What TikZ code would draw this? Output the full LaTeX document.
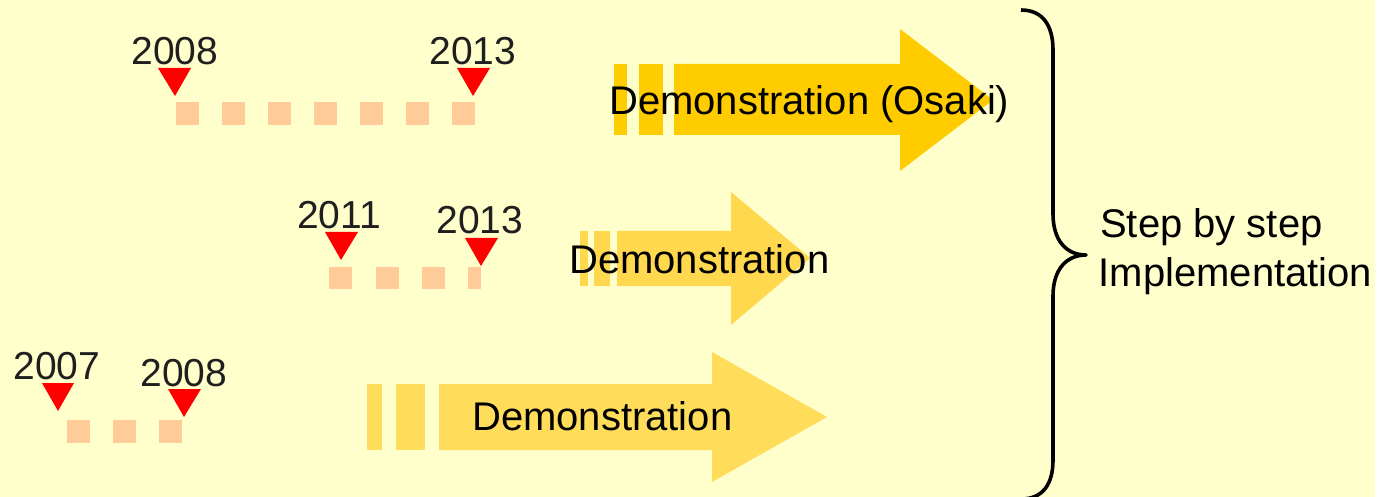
\documentclass[tikz,border=0pt]{standalone}
\usepackage{fontspec}
\setmainfont{Liberation Sans}
\definecolor{bgyellow}{HTML}{FFFFCC}
\definecolor{gold}{HTML}{FFCC00}
\definecolor{goldlight}{HTML}{FFD84D}
\definecolor{goldlighter}{HTML}{FFDC5A}
\definecolor{peach}{HTML}{FFCC99}
\definecolor{mark}{HTML}{FF0000}
\tikzset{
  txt/.style={inner sep=0pt, font=\fontsize{40}{49}\selectfont, text=black},
  yeartxt/.style={inner sep=0pt, anchor=base, font=\fontsize{39}{46}\selectfont, text=black!88},
  sq/.style={fill=peach, draw=none},
  tri/.style={fill=mark, draw=none},
  bracestroke/.style={draw=black, line width=3.6pt, line cap=butt, line join=round}
}
\begin{document}
\begin{tikzpicture}[x=1pt,y=-1pt]
\useasboundingbox (0,0) rectangle (1390,497);
\fill[white] (0,0) rectangle (1390,497);
\fill[bgyellow] (0,0) rectangle (1375,497);

% ---- top arrow (Osaki)
\fill[gold] (614,64) rectangle (627,135);
\fill[gold] (639,64) rectangle (663,135);
\fill[gold] (674,64) -- (900,64) -- (900,29) -- (993,100) -- (900,171) -- (900,135) -- (674,135) -- cycle;
\node[txt, anchor=base west] (demo1) at (609,115) {Demonstration (Osaki)};

% ---- middle arrow
\fill[goldlight] (580,231) rectangle (588,286);
\fill[goldlight] (594,231) rectangle (610,286);
\fill[goldlight] (617,231) -- (731,231) -- (731,192) -- (810,258) -- (731,325) -- (731,286) -- (617,286) -- cycle;
\node[txt, anchor=base west] (demo2) at (569,273) {Demonstration};

% ---- bottom arrow
\fill[goldlighter] (367,384) rectangle (382,450);
\fill[goldlighter] (396,384) rectangle (425,450);
\fill[goldlighter] (439,384) -- (712,384) -- (712,352) -- (827,417) -- (712,482) -- (712,450) -- (439,450) -- cycle;
\node[txt, anchor=base west] (demo3) at (472,430) {Demonstration};

% ---- top timeline 2008-2013
\foreach \x in {176,222,268,314,360,406,452}
  \fill[sq] (\x,102) rectangle ++(23,23);
\fill[tri] (158,68) -- (191,68) -- (175,96) -- cycle;
\fill[tri] (457,68) -- (490,68) -- (473,96) -- cycle;
\node[yeartxt] (y2008a) at (175,65) {2008};
\node[yeartxt] (y2013a) at (473,65) {2013};

% ---- middle timeline 2011-2013
\foreach \x in {329,376,422}
  \fill[sq] (\x,267) rectangle ++(23,22);
\fill[sq] (468,267) rectangle (481,289);
\fill[tri] (325,232) -- (358,232) -- (341,260) -- cycle;
\fill[tri] (465,238) -- (498,238) -- (481,266) -- cycle;
\node[yeartxt] (y2011) at (339,229) {2011};
\node[yeartxt] (y2013b) at (480,234) {2013};

% ---- bottom timeline 2007-2008
\foreach \x in {67,113,159}
  \fill[sq] (\x,420) rectangle ++(23,23);
\fill[tri] (42,383) -- (74,383) -- (58,411) -- cycle;
\fill[tri] (168,389) -- (201,389) -- (184,417) -- cycle;
\node[yeartxt] (y2007) at (57,379) {2007};
\node[yeartxt] (y2008b) at (184,386) {2008};

% ---- brace
\draw[bracestroke] (1021,10) .. controls (1043,10) and (1053,26) .. (1053,50)
  -- (1053,214) .. controls (1053,240) and (1066,255) .. (1086,255)
  .. controls (1066,255) and (1053,270) .. (1053,296)
  -- (1053,460) .. controls (1053,484) and (1043,499) .. (1021,499);

\node[txt, anchor=base west] (step) at (1100,238) {Step by step};
\node[txt, anchor=base west] (impl) at (1098.5,287) {Implementation};
\end{tikzpicture}
\end{document}
